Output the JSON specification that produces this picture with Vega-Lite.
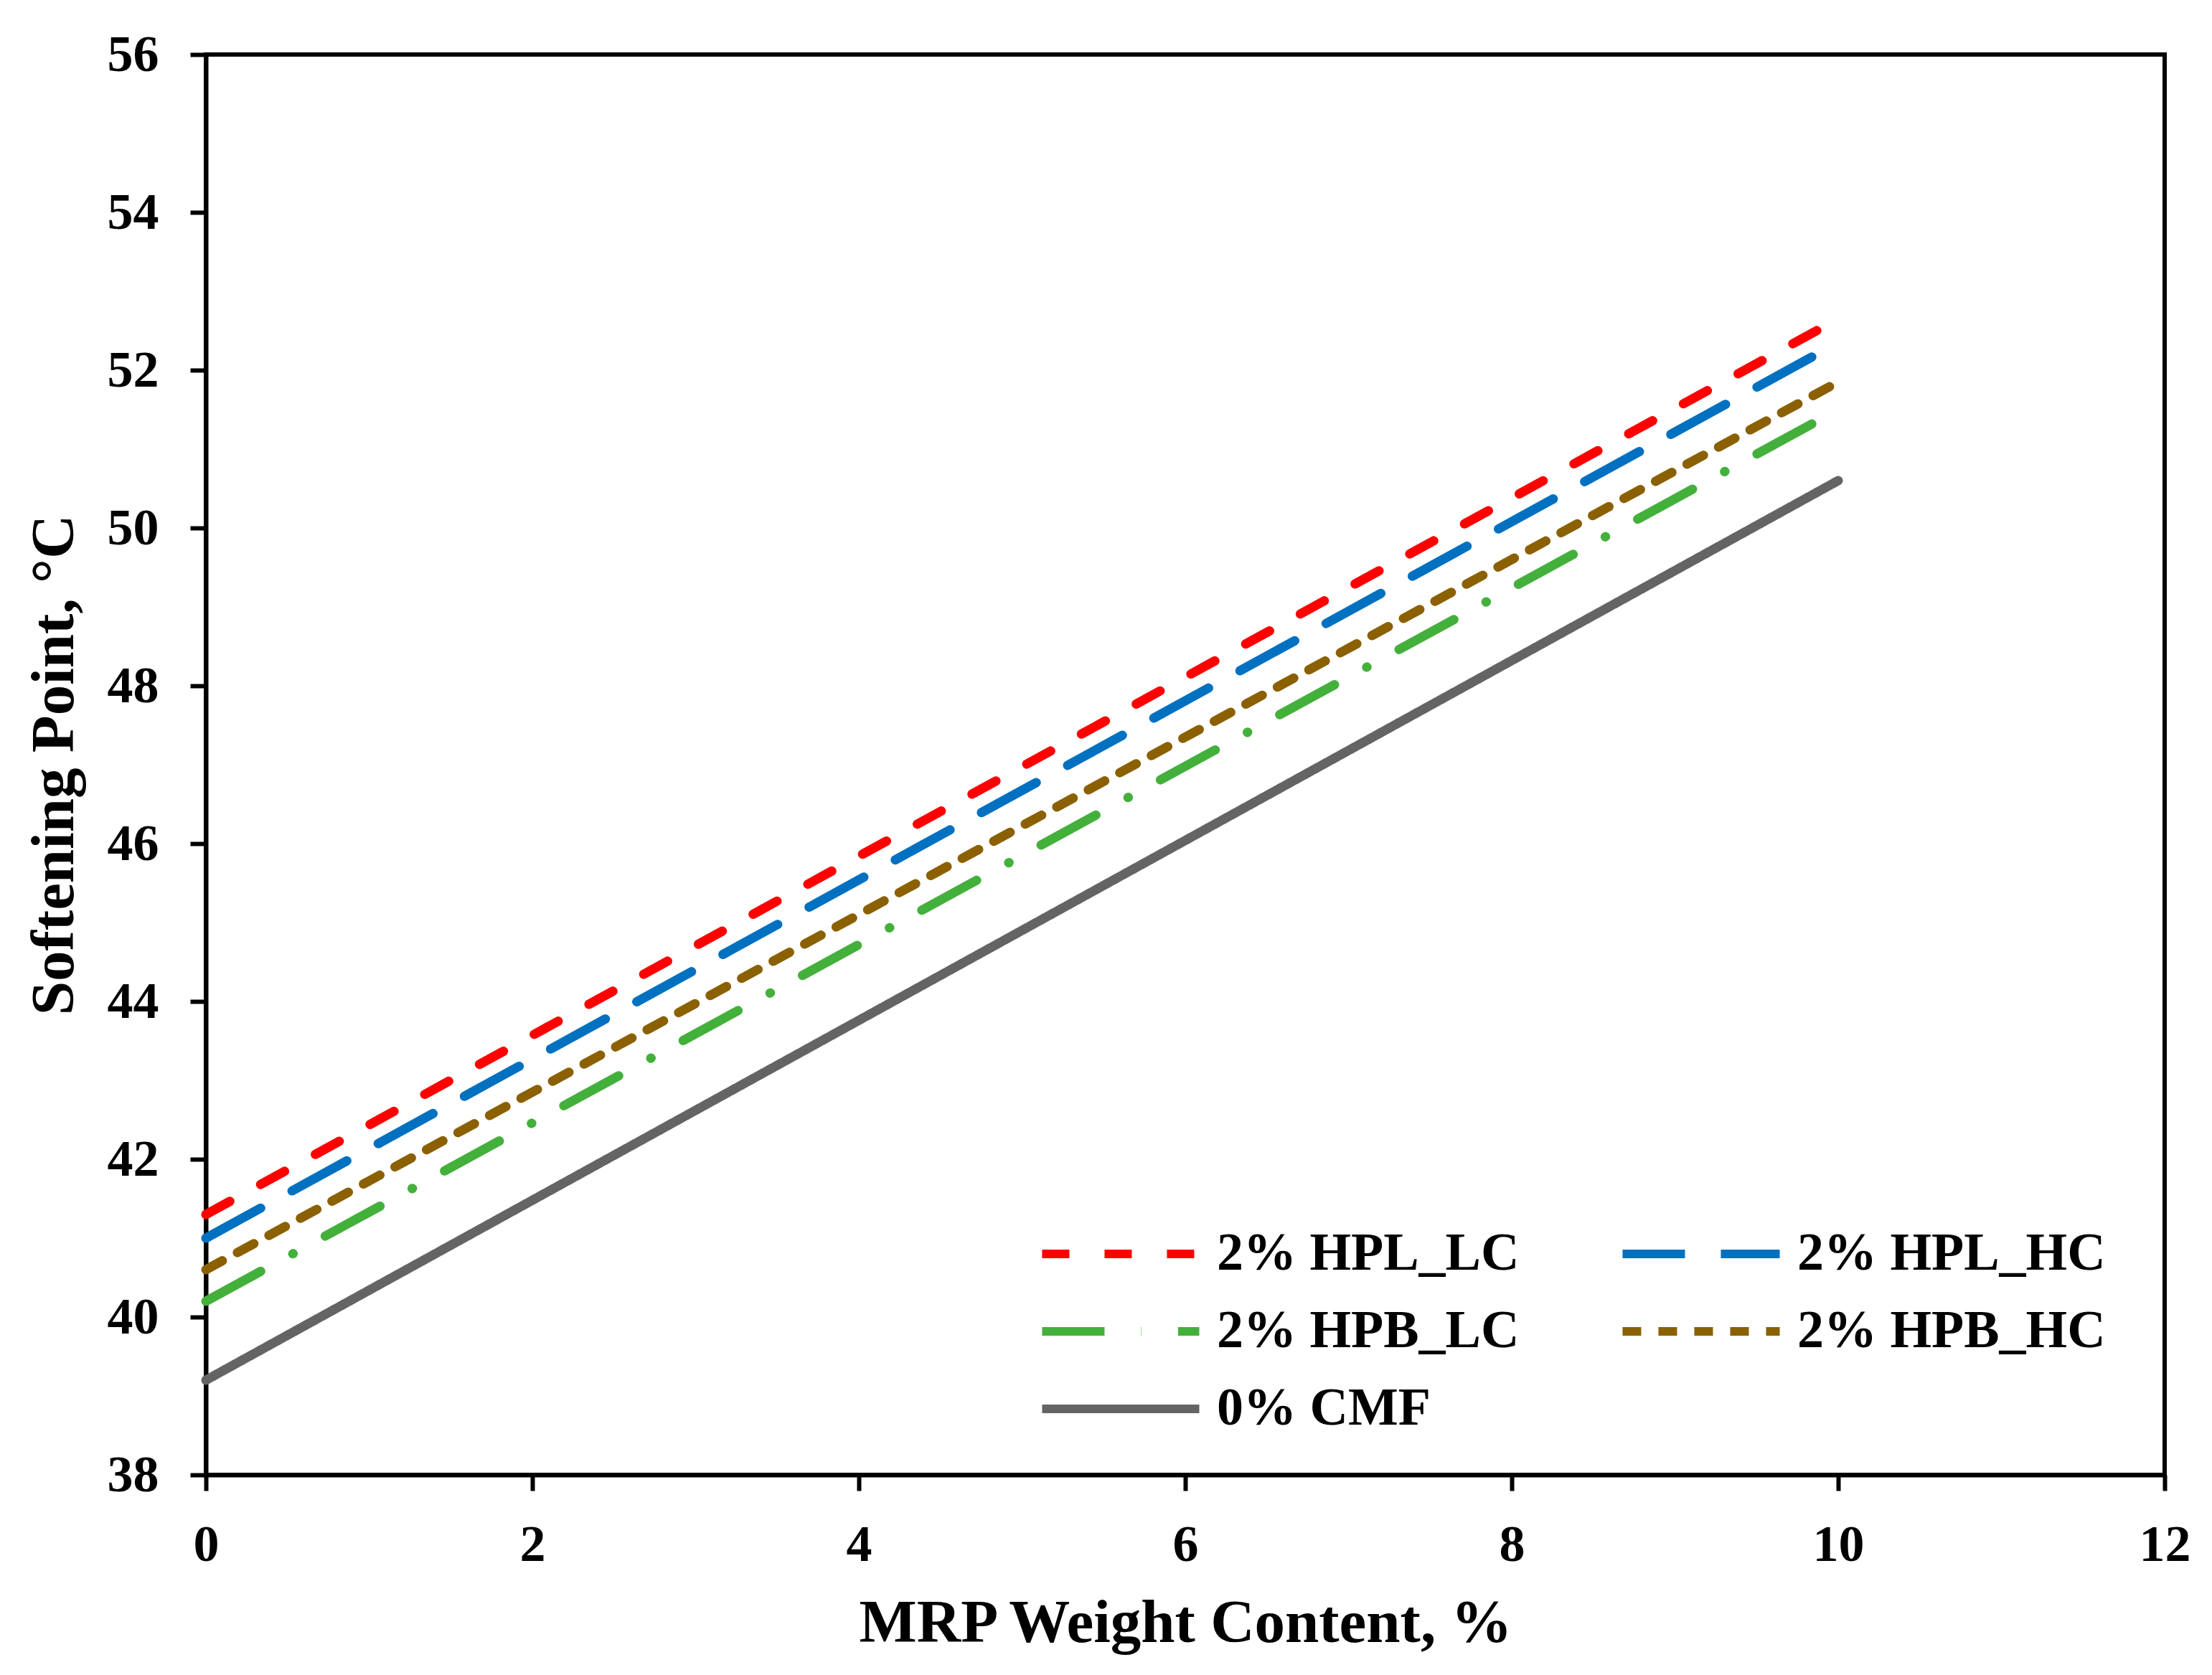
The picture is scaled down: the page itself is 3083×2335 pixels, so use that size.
{
  "$schema": "https://vega.github.io/schema/vega-lite/v6.json",
  "width": 2730,
  "height": 1980,
  "autosize": {"type": "none"},
  "padding": {"left": 287, "top": 76, "right": 66, "bottom": 279},
  "background": "white",
  "data": {
    "values": [
      {"series": "2% HPL_LC", "mrp": 0, "sp": 41.3},
      {"series": "2% HPL_LC", "mrp": 10, "sp": 52.65},
      {"series": "2% HPL_HC", "mrp": 0, "sp": 41.0},
      {"series": "2% HPL_HC", "mrp": 10, "sp": 52.35},
      {"series": "2% HPB_LC", "mrp": 0, "sp": 40.2},
      {"series": "2% HPB_LC", "mrp": 10, "sp": 51.5},
      {"series": "2% HPB_HC", "mrp": 0, "sp": 40.6},
      {"series": "2% HPB_HC", "mrp": 10, "sp": 51.85},
      {"series": "0% CMF", "mrp": 0, "sp": 39.2},
      {"series": "0% CMF", "mrp": 10, "sp": 50.6}
    ]
  },
  "mark": {"type": "line", "strokeWidth": 13, "strokeCap": "round"},
  "encoding": {
    "x": {
      "field": "mrp",
      "type": "quantitative",
      "title": "MRP Weight Content, %",
      "scale": {"domain": [0, 12], "nice": false, "zero": false},
      "axis": {"values": [0, 2, 4, 6, 8, 10, 12], "labelFlush": false, "labelPadding": 40, "titlePadding": 32}
    },
    "y": {
      "field": "sp",
      "type": "quantitative",
      "title": "Softening Point, °C",
      "scale": {"domain": [38, 56], "nice": false, "zero": false},
      "axis": {"values": [38, 40, 42, 44, 46, 48, 50, 52, 54, 56], "labelFlush": false, "labelPadding": 44, "titlePadding": 30}
    },
    "color": {
      "field": "series",
      "type": "nominal",
      "title": null,
      "scale": {
        "domain": ["2% HPL_LC", "2% HPL_HC", "2% HPB_LC", "2% HPB_HC", "0% CMF"],
        "range": ["#FF0000", "#0070C0", "#44B03C", "#8B6000", "#646464"]
      },
      "legend": {
        "orient": "none",
        "direction": "horizontal",
        "legendX": 1159,
        "legendY": 1635,
        "columns": 2,
        "columnPadding": 137,
        "rowPadding": 34,
        "clipHeight": 74,
        "symbolType": "stroke",
        "symbolSize": 48000,
        "symbolStrokeWidth": 12,
        "labelOffset": 18,
        "labelFont": "Liberation Serif",
        "labelFontWeight": "bold",
        "labelFontSize": 74,
        "labelColor": "black",
        "labelLimit": 0
      }
    },
    "strokeDash": {
      "field": "series",
      "type": "nominal",
      "title": null,
      "scale": {
        "domain": ["2% HPL_LC", "2% HPL_HC", "2% HPB_LC", "2% HPB_HC", "0% CMF"],
        "range": [[38, 49], [87, 50], [87, 51, 0.5, 51], [26, 24], [1, 0]]
      }
    }
  },
  "config": {
    "view": {"stroke": "black", "strokeWidth": 6},
    "axis": {
      "grid": false,
      "domainColor": "black",
      "domainWidth": 6,
      "tickColor": "black",
      "tickWidth": 6,
      "tickSize": 22,
      "labelFont": "Liberation Serif",
      "labelFontWeight": "bold",
      "labelFontSize": 72,
      "labelColor": "black",
      "titleFont": "Liberation Serif",
      "titleFontWeight": "bold",
      "titleFontSize": 85,
      "titleColor": "black"
    }
  }
}
